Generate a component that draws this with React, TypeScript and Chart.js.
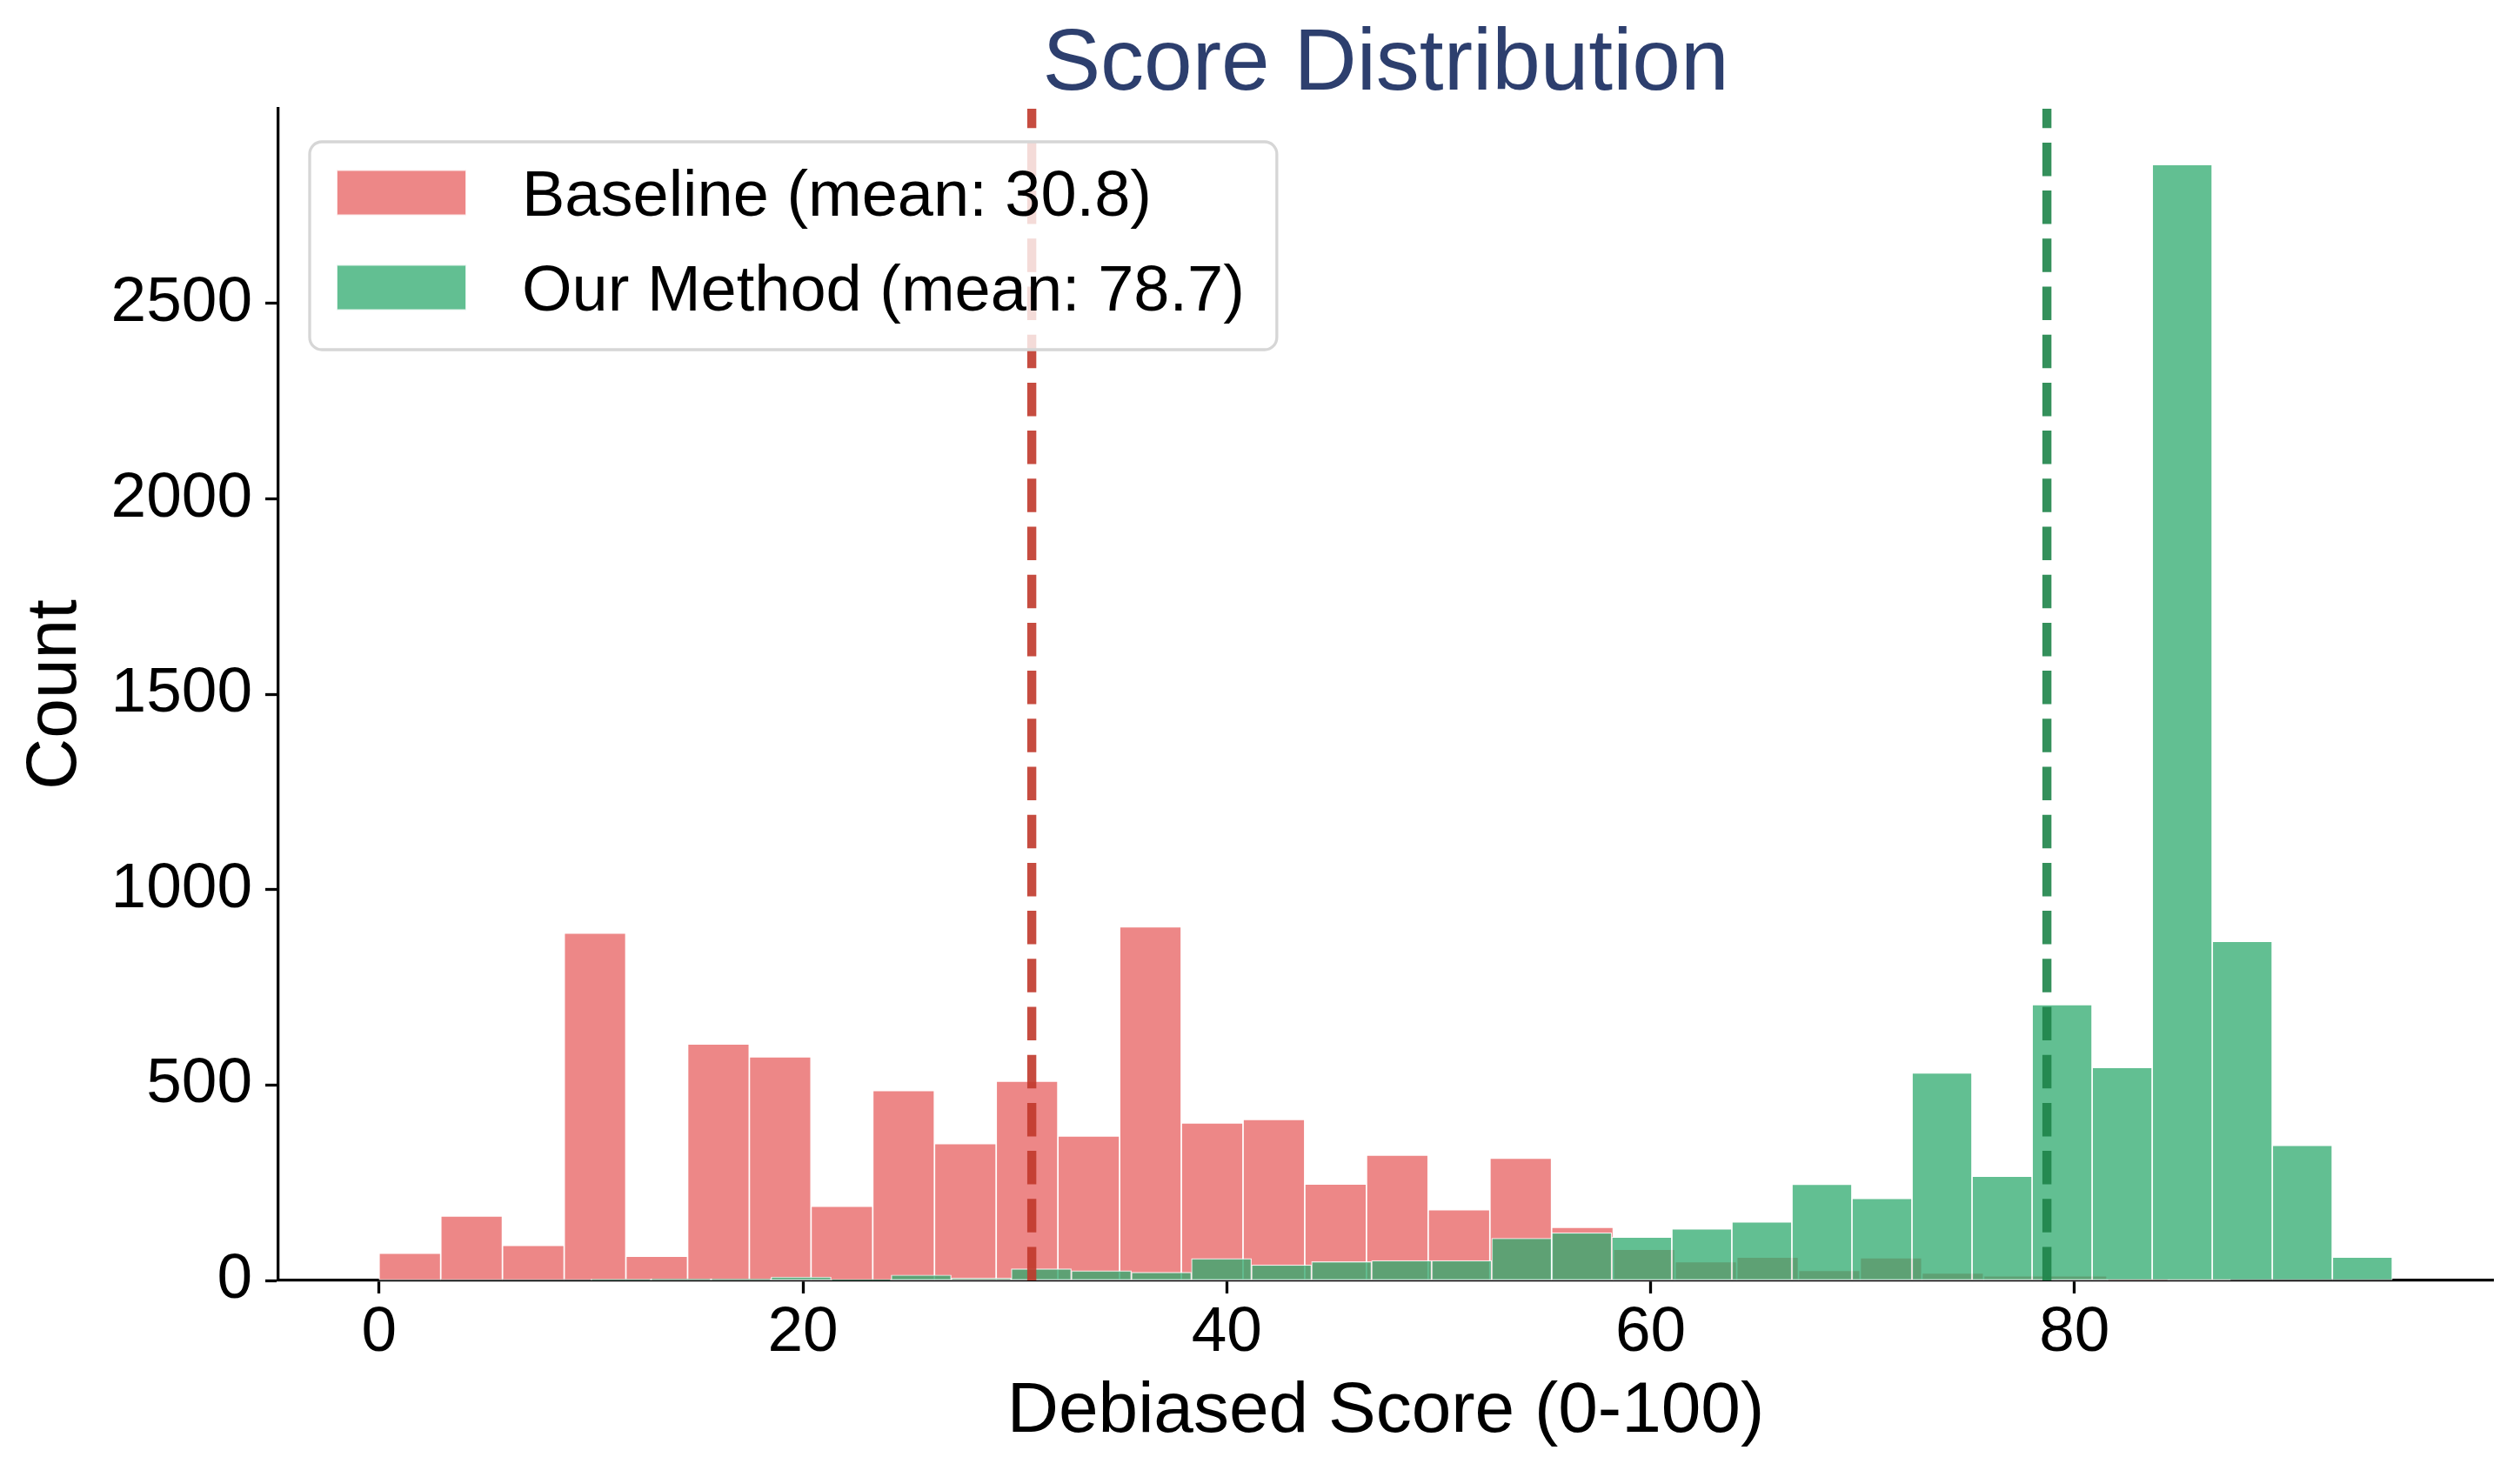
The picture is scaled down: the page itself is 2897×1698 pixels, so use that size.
import React, { useEffect, useRef } from 'react';
import { Chart, registerables } from 'chart.js';

Chart.register(...registerables);

const W = 2897;
const H = 1698;
const FONT = "'Liberation Sans', Arial, Helvetica, sans-serif";

// Histogram bins (left edges) and counts
const BASELINE_BIN_LEFT = [0, 2.912, 5.824, 8.736, 11.648, 14.56, 17.472, 20.384, 23.296, 26.208, 29.12, 32.032, 34.944, 37.856, 40.768, 43.68, 46.592, 49.504, 52.416, 55.328, 58.24, 61.152, 64.064, 66.976, 69.888, 72.8, 75.712, 78.624, 81.536, 84.448];
const BASELINE_BIN_WIDTH = 2.912;
const BASELINE_COUNTS = [70, 165, 90, 889, 62, 605, 572, 190, 486, 350, 510, 370, 905, 403, 412, 247, 321, 181, 313, 136, 80, 48, 60, 26, 58, 19, 12, 12, 3, 6];

const OUR_BIN_LEFT = [10, 12.833, 15.667, 18.5, 21.333, 24.167, 27, 29.833, 32.667, 35.5, 38.333, 41.167, 44, 46.833, 49.667, 52.5, 55.333, 58.167, 61, 63.833, 66.667, 69.5, 72.333, 75.167, 78, 80.833, 83.667, 86.5, 89.333, 92.167];
const OUR_BIN_WIDTH = 2.8333;
const OUR_COUNTS = [3, 4, 4, 9, 2, 14, 6, 30, 25, 21, 56, 40, 48, 51, 51, 108, 122, 111, 132, 150, 246, 210, 531, 267, 706, 545, 2855, 868, 346, 60];

const SERIES_LABELS = ['Baseline (mean: 30.8)', 'Our Method (mean: 78.7)'];
const MEANS = [30.8, 78.7];

const X_TICKS = [0, 20, 40, 60, 80];
const Y_TICKS = [0, 500, 1000, 1500, 2000, 2500];
const X_RANGE = [-4.75, 99.75];
const Y_RANGE = [0, 2998];

const RED_FILL = 'rgb(237,135,135)';
const GREEN_FILL = 'rgba(46,170,110,0.75)';
const RED_LINE = 'rgba(192,57,43,0.9)';
const GREEN_LINE = 'rgba(30,132,73,0.9)';
const TITLE_COLOR = '#2d3f6e';

const overlayPlugin = {
  id: 'overlay',
  afterDatasetsDraw(chart: any) {
    const { ctx, chartArea } = chart;
    const xs = chart.scales.x;
    const colors = [RED_LINE, GREEN_LINE];
    ctx.save();
    MEANS.forEach((m, i) => {
      const px = xs.getPixelForValue(m);
      ctx.beginPath();
      ctx.setLineDash([38.5, 16.7]);
      ctx.lineWidth = 10.4;
      ctx.lineCap = 'butt';
      ctx.strokeStyle = colors[i];
      ctx.moveTo(px, chartArea.bottom);
      ctx.lineTo(px, chartArea.top);
      ctx.stroke();
    });
    ctx.restore();
  },
  afterDraw(chart: any) {
    const { ctx, chartArea } = chart;
    ctx.save();
    // Title
    ctx.font = `100px ${FONT}`;
    ctx.fillStyle = TITLE_COLOR;
    ctx.textAlign = 'center';
    ctx.textBaseline = 'alphabetic';
    ctx.fillText('Score Distribution', (chartArea.left + chartArea.right) / 2, 103);

    // Legend
    const fs = 74;
    ctx.font = `${fs}px ${FONT}`;
    const boxL = chartArea.left + 36;
    const boxT = chartArea.top + 38;
    const patchL = boxL + 31;
    const patchW = 149;
    const patchH = 52;
    const textX = patchL + patchW + 64;
    const maxW = Math.max(...SERIES_LABELS.map((t) => ctx.measureText(t).width));
    const boxW = textX - boxL + maxW + 37;
    const boxH = 239;
    ctx.beginPath();
    (ctx as any).roundRect(boxL, boxT, boxW, boxH, 14);
    ctx.fillStyle = 'rgba(255,255,255,0.8)';
    ctx.fill();
    ctx.lineWidth = 3.3;
    ctx.strokeStyle = 'rgb(214,214,214)';
    ctx.stroke();
    const fills = [RED_FILL, GREEN_FILL];
    SERIES_LABELS.forEach((label, i) => {
      const cy = boxT + 58.5 + i * 109;
      ctx.fillStyle = fills[i];
      ctx.fillRect(patchL, cy - patchH / 2, patchW, patchH);
      ctx.strokeStyle = 'rgba(255,255,255,0.8)';
      ctx.lineWidth = 2;
      ctx.strokeRect(patchL, cy - patchH / 2, patchW, patchH);
      ctx.fillStyle = '#000';
      ctx.textAlign = 'left';
      ctx.textBaseline = 'alphabetic';
      ctx.fillText(label, textX, cy + 0.716 * fs / 2);
    });
    ctx.restore();
  },
};

export default function App() {
  const ref = useRef<HTMLCanvasElement | null>(null);

  useEffect(() => {
    document.body.style.margin = '0';
    if (!ref.current) return;
    const tickFont = { family: FONT, size: 73, lineHeight: 1.2 };
    const labelFont = { family: FONT, size: 82, lineHeight: 1.2 };
    const gridOpts = {
      display: true,
      drawOnChartArea: false,
      drawTicks: true,
      tickLength: 15,
      tickWidth: 3.3,
      tickColor: '#000',
      offset: false,
    };
    const plain = (v: any) => String(v);
    const chart = new Chart(ref.current, {
      type: 'bar',
      data: {
        datasets: [
          {
            label: SERIES_LABELS[0],
            data: BASELINE_BIN_LEFT.map((l, i) => ({ x: l + BASELINE_BIN_WIDTH / 2, y: BASELINE_COUNTS[i] })),
            xAxisID: 'x',
            backgroundColor: RED_FILL,
            borderColor: 'rgba(255,255,255,0.85)',
            borderWidth: 1.2,
            borderSkipped: false,
            barPercentage: 1,
            categoryPercentage: 1,
            grouped: false,
            order: 2,
          },
          {
            label: SERIES_LABELS[1],
            data: OUR_BIN_LEFT.map((l, i) => ({ x: l + OUR_BIN_WIDTH / 2, y: OUR_COUNTS[i] })),
            xAxisID: 'x2',
            backgroundColor: GREEN_FILL,
            borderColor: 'rgba(255,255,255,0.8)',
            borderWidth: 1.2,
            borderSkipped: false,
            barPercentage: 1,
            categoryPercentage: 1,
            grouped: false,
            order: 1,
          },
        ],
      } as any,
      options: {
        animation: false,
        responsive: false,
        devicePixelRatio: 1,
        layout: { padding: { left: 0, right: W - 2866, top: 125, bottom: 0 } },
        plugins: {
          legend: { display: false },
          title: { display: false },
          tooltip: { enabled: false },
        },
        scales: {
          x: {
            type: 'linear',
            position: 'bottom',
            min: X_RANGE[0],
            max: X_RANGE[1],
            offset: false,
            afterBuildTicks: (s: any) => {
              s.ticks = X_TICKS.map((v) => ({ value: v }));
            },
            afterFit: (s: any) => {
              s.height = H - 1472;
            },
            grid: gridOpts,
            border: { display: true, color: '#000', width: 3.3 },
            ticks: { color: '#000', font: tickFont, padding: 2, maxRotation: 0, autoSkip: false, callback: plain },
            title: {
              display: true,
              text: 'Debiased Score (0-100)',
              color: '#000',
              font: labelFont,
              padding: { top: 0, bottom: 25 },
            },
          },
          x2: {
            type: 'linear',
            position: 'bottom',
            display: false,
            min: X_RANGE[0],
            max: X_RANGE[1],
            offset: false,
            afterBuildTicks: (s: any) => {
              s.ticks = X_TICKS.map((v) => ({ value: v }));
            },
          },
          y: {
            type: 'linear',
            min: Y_RANGE[0],
            max: Y_RANGE[1],
            afterBuildTicks: (s: any) => {
              s.ticks = Y_TICKS.map((v) => ({ value: v }));
            },
            afterFit: (s: any) => {
              s.width = 320;
            },
            grid: gridOpts,
            border: { display: true, color: '#000', width: 3.3 },
            ticks: { color: '#000', font: tickFont, padding: 15, callback: plain },
            title: {
              display: true,
              text: 'Count',
              color: '#000',
              font: labelFont,
              padding: { top: 15, bottom: 0 },
            },
          },
        },
      } as any,
      plugins: [overlayPlugin],
    });
    return () => chart.destroy();
  }, []);

  return (
    <div style={{ width: W, height: H, position: 'relative' }}>
      <canvas ref={ref} width={W} height={H} style={{ display: 'block', width: W, height: H }} />
    </div>
  );
}
